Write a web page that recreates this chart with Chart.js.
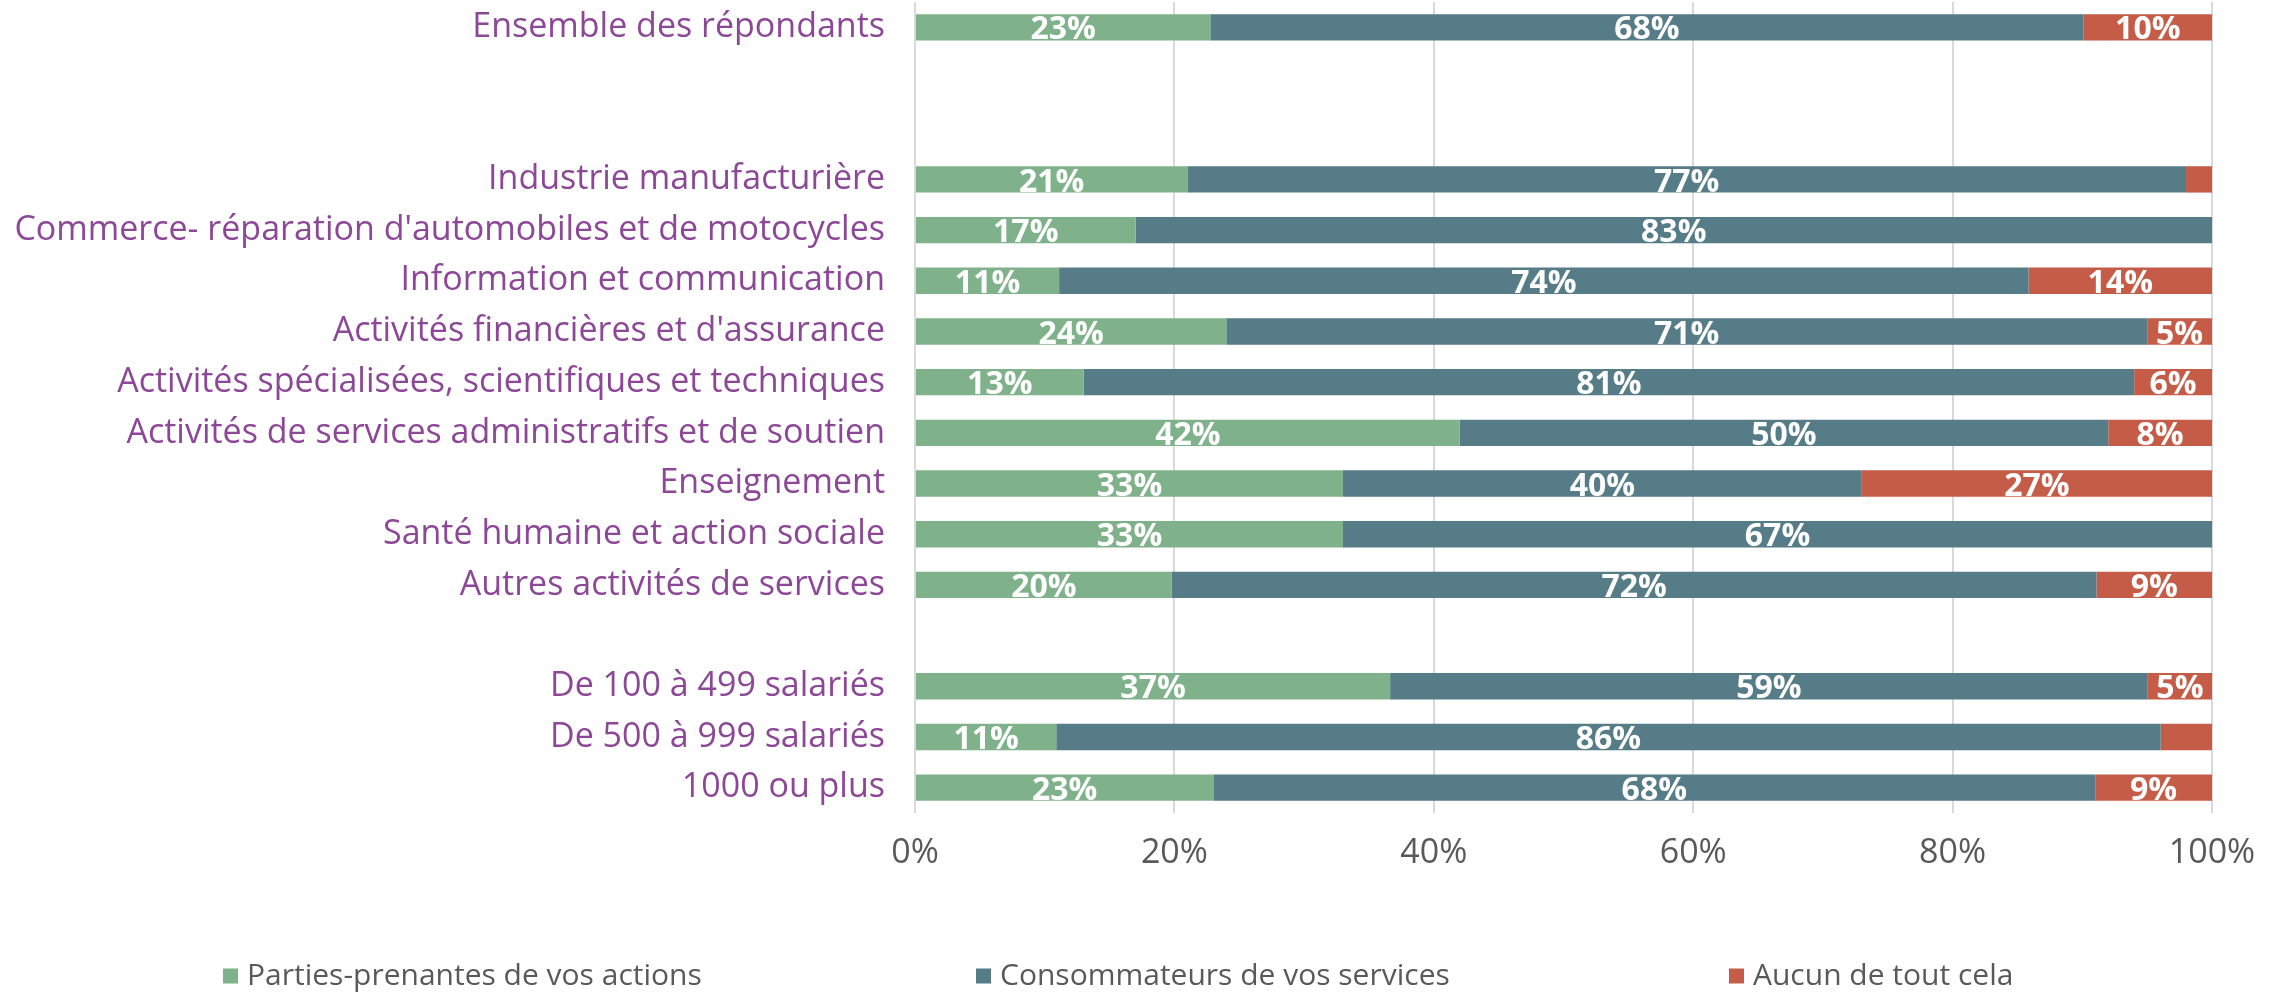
<!DOCTYPE html>
<html>
<head>
<meta charset="utf-8">
<script src="https://cdn.jsdelivr.net/npm/chart.js@4.4.1/dist/chart.umd.min.js"></script>
<style>
  html, body { margin: 0; padding: 0; background: #fff; }
  #wrap { width: 2285px; height: 994px; }
</style>
</head>
<body>
<div id="wrap"><canvas id="chart" width="2285" height="994"></canvas></div>
<script>
// categories (empty strings are the spacer rows of the original)
const categories = [
    'Ensemble des répondants', '', '',
    'Industrie manufacturière',
    "Commerce- réparation d'automobiles et de motocycles",
    'Information et communication',
    "Activités financières et d'assurance",
    'Activités spécialisées, scientifiques et techniques',
    'Activités de services administratifs et de soutien',
    'Enseignement',
    'Santé humaine et action sociale',
    'Autres activités de services',
    '',
    'De 100 à 499 salariés',
    'De 500 à 999 salariés',
    '1000 ou plus'
];

const seriesNames = ['Parties-prenantes de vos actions', 'Consommateurs de vos services', 'Aucun de tout cela'];
const seriesColors = ['#7FB28A', '#567C87', '#C55C47'];

// values in %, as printed on the bars
const parties       = [23, null, null, 21, 17, 11, 24, 13, 42, 33, 33, 20, null, 37, 11, 23];
const consommateurs = [68, null, null, 77, 83, 74, 71, 81, 50, 40, 67, 72, null, 59, 86, 68];
const aucun         = [10, null, null,  2,  0, 14,  5,  6,  8, 27,  0,  9, null,  5,  4,  9];

const xTicks = [0, 20, 40, 60, 80, 100];

const FONT = "'Open Sans', 'DejaVu Sans', sans-serif";
const rawSeries = [parties, consommateurs, aucun];

// 100% stacked: each row is scaled to its own total
const rowTotals = categories.map((_, i) => rawSeries.reduce((s, arr) => s + (arr[i] || 0), 0));

const datasets = rawSeries.map((arr, k) => ({
    label: seriesNames[k],
    data: arr.map((v, i) => v === null ? null : v / rowTotals[i] * 100),
    raw: arr,
    backgroundColor: seriesColors[k],
    borderWidth: 0,
    barPercentage: 0.52,
    categoryPercentage: 1
}));

// white value labels inside the segments, clipped to the bar like the original
const barLabels = {
    id: 'barLabels',
    afterDatasetsDraw(chart) {
        const ctx = chart.ctx;
        chart.data.datasets.forEach((ds, k) => {
            const meta = chart.getDatasetMeta(k);
            meta.data.forEach((bar, i) => {
                const v = ds.raw[i];
                if (v === null || v < 5) return;
                const p = bar.getProps(['x', 'y', 'base', 'height'], true);
                const left = Math.min(p.x, p.base), right = Math.max(p.x, p.base);
                ctx.save();
                ctx.beginPath();
                ctx.rect(left, p.y - p.height / 2, right - left, p.height);
                ctx.clip();
                ctx.fillStyle = '#fff';
                ctx.font = 'bold 32px ' + FONT;
                ctx.textAlign = 'center';
                ctx.textBaseline = 'middle';
                ctx.fillText(v + '%', (left + right) / 2, p.y + 3);
                ctx.restore();
            });
        });
    }
};

// legend laid out in equal columns like the original
const columnLegend = {
    id: 'columnLegend',
    afterDraw(chart) {
        const ctx = chart.ctx;
        const y = 976, x0 = 223, colW = 753, box = 15;
        ctx.save();
        ctx.font = '30px ' + FONT;
        ctx.textBaseline = 'middle';
        ctx.textAlign = 'left';
        chart.data.datasets.forEach((ds, k) => {
            const x = x0 + k * colW;
            ctx.fillStyle = ds.backgroundColor;
            ctx.fillRect(x, y - box / 2, box, box);
            ctx.fillStyle = '#595959';
            ctx.fillText(ds.label, x + box + 9, y);
        });
        ctx.restore();
    }
};

new Chart(document.getElementById('chart'), {
    type: 'bar',
    data: { labels: categories, datasets },
    plugins: [barLabels, columnLegend],
    options: {
        indexAxis: 'y',
        responsive: false,
        animation: false,
        layout: { padding: { top: 2, left: 0, right: 73, bottom: 101 } },
        plugins: {
            legend: { display: false },
            tooltip: { enabled: false }
        },
        scales: {
            x: {
                stacked: true,
                min: 0,
                max: 100,
                afterBuildTicks: scale => { scale.ticks = xTicks.map(v => ({ value: v })); },
                afterFit: scale => { scale.height = 80; },
                ticks: {
                    callback: v => v + '%',
                    color: '#595959',
                    font: { family: FONT, size: 34 },
                    padding: 20,
                    maxRotation: 0
                },
                grid: { color: '#D9D9D9', lineWidth: 2, drawTicks: false },
                border: { display: false }
            },
            y: {
                stacked: true,
                afterFit: scale => {
                    scale.width = 915;
                    scale.paddingTop = 0;
                    scale.paddingBottom = 0;
                },
                ticks: {
                    color: '#8C4796',
                    font: { family: FONT, size: 34 },
                    padding: 30,
                    autoSkip: false
                },
                grid: { display: false, drawTicks: false },
                border: { display: false }
            }
        }
    }
});
</script>
</body>
</html>
